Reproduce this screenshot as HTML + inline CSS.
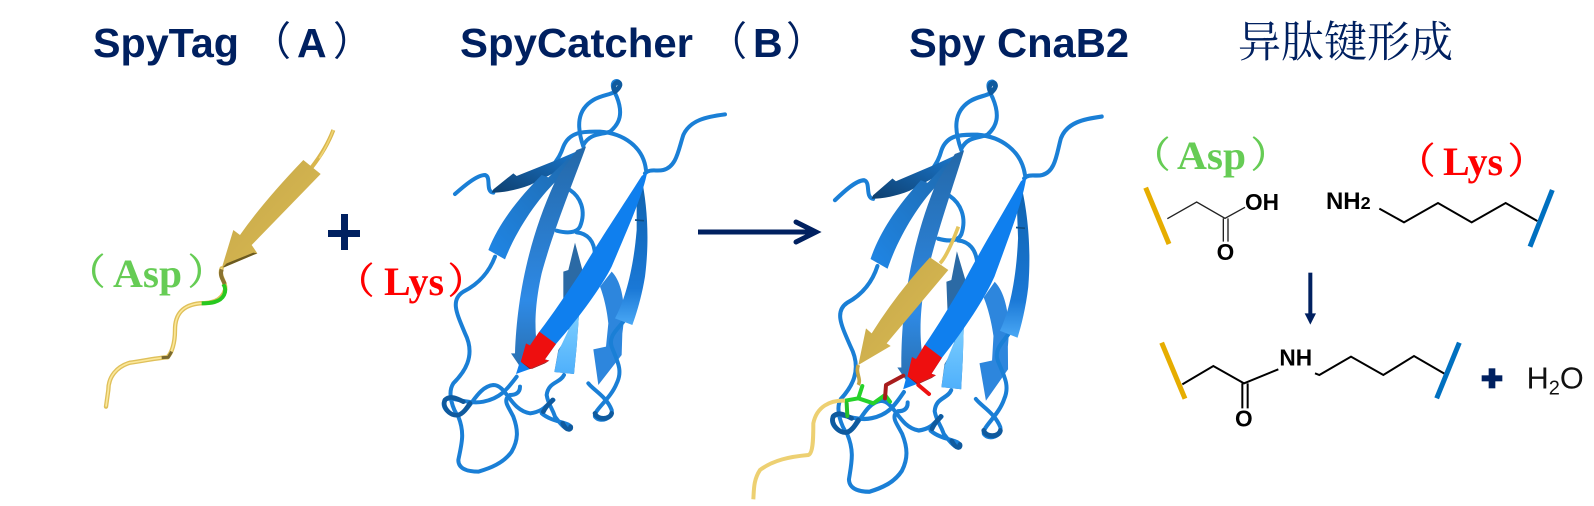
<!DOCTYPE html>
<html><head><meta charset="utf-8"><style>
html,body{margin:0;padding:0;background:#fff;width:1594px;height:506px;overflow:hidden}
svg{display:block}
.t{font-family:"Liberation Sans",sans-serif;font-weight:bold;font-size:41px;fill:#002060}
.p{font-family:"Noto Sans CJK SC",sans-serif;font-size:40px;fill:#002060}
.z{font-family:"Noto Serif CJK SC",serif;font-size:43px;fill:#002060}
.l{font-family:"Liberation Serif",serif;font-weight:bold;font-size:40px}
.lp{font-family:"Noto Serif CJK SC",serif;font-size:36px;stroke-width:.9}
.g{fill:#66cc55;stroke:#66cc55}
.r{fill:#f00;stroke:#f00}
.c{font-family:"Liberation Sans",sans-serif;fill:#000;font-weight:bold;font-size:68px}
.coil{fill:none;stroke:#1a7fd6;stroke-width:12;stroke-linecap:round;stroke-linejoin:round}
.dk{fill:none;stroke:#0f5a9e;stroke-width:14;stroke-linecap:round}
</style></head><body>
<svg width="1594" height="506" viewBox="0 0 1594 506" xmlns="http://www.w3.org/2000/svg">
<defs>
<linearGradient id="gTag" x1="0" y1="0" x2="1" y2="1"><stop offset="0" stop-color="#c4a647"/><stop offset="1" stop-color="#dcbc55"/></linearGradient>
<linearGradient id="gDark" x1="0" y1="1" x2="1" y2="0"><stop offset="0" stop-color="#0e3f6e"/><stop offset="1" stop-color="#1a78cf"/></linearGradient>
<linearGradient id="gS1" x1="0" y1="1" x2="1" y2="0"><stop offset="0" stop-color="#1f86e6"/><stop offset="1" stop-color="#1f6aae"/></linearGradient>
<linearGradient id="gS2" x1="0" y1="1" x2="0" y2="0"><stop offset="0" stop-color="#2a70b0"/><stop offset=".3" stop-color="#2e8ae6"/><stop offset="1" stop-color="#2468a8"/></linearGradient>
<linearGradient id="gS3" x1="0" y1="1" x2="0" y2="0"><stop offset="0" stop-color="#4aa8f5"/><stop offset=".25" stop-color="#1a78d6"/><stop offset="1" stop-color="#0f62ad"/></linearGradient>
<linearGradient id="gLt" x1="0" y1="1" x2="0" y2="0"><stop offset="0" stop-color="#4fb0fb"/><stop offset="1" stop-color="#7fd0ff"/></linearGradient>
<g id="prot">
  <!-- rear strands -->
  <path d="M575,605 C610,640 618,720 607,790 L605,855 L535,945 L520,838 L558,830 L565,760 C560,710 548,670 540,650 Z" fill="#2d86dd"/>
  <path d="M465,518 L490,610 L478,720 L470,830 L462,912 L403,906 L415,840 L448,790 L430,700 L430,605 L445,600 Z" fill="#2b6aa5"/>
  <path d="M478,720 L470,830 L462,912 L403,906 L415,845 L450,770 Z" fill="url(#gLt)"/>
  <!-- coils -->
  <path class="coil" d="M915,133 C860,140 810,150 790,195 C775,240 770,290 730,300 C710,305 690,295 675,310"/>
  <path class="coil" d="M678,300 C670,230 610,190 540,185 C500,185 450,180 430,230 C420,260 410,270 400,285"/>
  <path class="coil" d="M490,230 C470,170 470,120 520,90 C545,75 570,75 585,65 C600,55 605,35 590,33 C570,35 580,60 590,80 C610,130 600,160 570,185 C540,195 510,190 490,225"/>
  <path class="coil" d="M105,372 C130,350 170,315 195,315 C215,320 195,365 220,368"/>
  <path class="coil" d="M450,360 C480,380 500,420 480,470 C470,490 440,490 410,482"/>
  <path class="coil" d="M470,487 C500,490 525,510 525,560"/>
  <path class="coil" d="M225,560 C210,600 180,640 130,665 C90,690 110,730 135,790 C170,860 130,910 100,940 C80,970 100,1020 115,1040 C135,1090 125,1120 115,1170 C115,1200 150,1205 175,1205 C210,1195 250,1180 275,1145 C295,1110 295,1080 280,1040 C265,1010 255,1000 260,985"/>
  <path class="coil" d="M290,920 C260,960 240,985 190,995 C140,1005 90,975 75,990 C60,1010 90,1040 115,1035 C150,1025 170,950 220,945 C260,945 270,1020 330,1030 C370,1025 380,1005 400,990"/>
  <path class="coil" d="M300,950 C300,970 285,975 270,975"/>
  <path class="coil" d="M432,915 C420,940 385,935 380,975 C385,1005 395,1010 405,1040 C420,1060 440,1085 452,1075 C455,1055 400,1060 365,1030 C370,1010 385,1005 400,990"/>
  <path class="coil" d="M610,755 C590,780 565,800 575,830 C590,870 610,900 590,940 C570,990 520,1020 525,1040 C540,1060 580,1045 575,1020 C560,980 520,960 505,940"/>
  <!-- dark coil sections -->
  <path class="dk" d="M75,990 C65,1010 90,1040 115,1035 C130,1030 140,1015 150,1000"/>
  <path class="dk" d="M75,990 C90,975 110,985 130,995"/>
  <path class="dk" d="M428,1060 C440,1085 455,1080 452,1070"/>
  <path class="dk" d="M525,1030 C530,1050 570,1050 575,1030"/>
  <path class="dk" d="M583,60 C575,40 600,28 600,45 C598,55 590,60 585,65" />
  <path class="dk" d="M370,1025 C380,1005 390,1000 398,990" />
  <!-- left strands -->
  <path d="M220,358 L280,310 L290,318 L410,270 L480,240 L430,295 L330,345 C290,360 250,368 215,368 Z" fill="url(#gDark)"/>
  <path d="M205,540 C240,450 310,370 365,315 L385,322 L445,265 L470,285 L410,332 C350,390 290,480 255,568 Z" fill="url(#gS1)"/>
  <path d="M273,850 L285,850 C290,700 320,520 405,335 L420,310 L470,240 L498,230 C470,310 400,480 365,610 C345,700 345,760 348,800 L330,830 L300,890 Z" fill="url(#gS2)"/>
  <!-- far right strand -->
  <path d="M665,325 C680,400 690,500 675,620 C665,680 650,730 637,765 L585,745 C615,690 640,600 650,480 L650,400 Z" fill="url(#gS3)"/>
  <path d="M645,450 L672,452" stroke="#0f4f85" stroke-width="5"/>
  <!-- main strand -->
  <path d="M682,305 C670,370 630,460 575,590 C545,650 480,740 408,822 L375,868 L388,872 L330,897 L288,912 L298,880 L318,820 L330,826 L358,785 C400,730 440,670 480,610 C520,540 600,420 665,318 Z" fill="#0f7fee"/>
  <path d="M358,785 L408,822 L375,868 L388,872 L330,897 L302,875 L318,820 L330,826 Z" fill="#ee0f0f"/>
  <path d="M302,875 L330,897 L388,872 L375,880 L335,897 Z" fill="#a01010"/>
</g>
</defs>

<!-- titles -->
<text class="t" x="93" y="57" textLength="146" lengthAdjust="spacingAndGlyphs">SpyTag</text>
<text class="p" x="251" y="55">（</text><text class="t" x="297" y="57">A</text><text class="p" x="333" y="55">）</text>
<text class="t" x="460" y="57" textLength="233" lengthAdjust="spacingAndGlyphs">SpyCatcher</text>
<text class="p" x="707" y="55">（</text><text class="t" x="753" y="57">B</text><text class="p" x="786" y="55">）</text>
<text class="t" x="909" y="57" textLength="220" lengthAdjust="spacingAndGlyphs">Spy CnaB2</text>
<text class="z" x="1238" y="57">异肽键形成</text>

<!-- SpyTag A -->
<g transform="translate(60,110) scale(.33333)">
  <path d="M820,60 C805,100 780,140 755,172" fill="none" stroke="#d9b64d" stroke-width="12"/>
  <path d="M820,60 C805,100 790,125 778,145" fill="none" stroke="#f0d575" stroke-width="5"/>
  <path d="M730,150 L782,192 L575,405 L592,430 L485,475 L520,360 L540,375 Q610,275 730,150 Z" fill="url(#gTag)"/>
  <path d="M485,475 L592,430 L580,428 L500,460 Z" fill="#6b5a20"/>
  <path d="M485,475 C475,500 500,515 495,540 C485,575 450,580 420,580 C370,585 345,610 345,660 C345,700 335,730 322,742 C280,745 240,755 210,758 C170,770 145,800 145,840 L138,890" fill="none" stroke="#dfc05a" stroke-width="13" stroke-linecap="round"/>
  <path d="M485,475 C475,500 500,515 495,540 C485,575 450,580 420,580 C370,585 345,610 345,660 C345,700 335,730 322,742 C280,745 240,755 210,758 C170,770 145,800 145,840 L138,890" fill="none" stroke="#fbe79a" stroke-width="5"/>
  <path d="M490,522 C498,535 497,545 492,555 C480,578 450,580 425,580" fill="none" stroke="#27c81f" stroke-width="12"/>
  <path d="M485,478 C478,498 490,510 494,522" fill="none" stroke="#8a7330" stroke-width="12"/>
  <path d="M305,743 L325,742 L335,725" fill="none" stroke="#7a6a30" stroke-width="9"/>
</g>
<text class="lp g" x="69" y="284">（</text>
<text class="l" x="113" y="287" style="fill:#66cc55" textLength="69" lengthAdjust="spacingAndGlyphs">Asp</text>
<text class="lp g" x="188" y="284">）</text>

<!-- plus -->
<rect x="328" y="230" width="32" height="7" fill="#002060"/>
<rect x="341" y="214" width="7" height="36" fill="#002060"/>

<!-- Lys label -->
<text class="lp r" x="338" y="293">（</text>
<text class="l" x="384" y="295" style="fill:#f00" textLength="60" lengthAdjust="spacingAndGlyphs">Lys</text>
<text class="lp r" x="448" y="293">）</text>

<!-- SpyCatcher B -->
<g transform="translate(420,70) scale(.33333)"><use href="#prot"/></g>

<!-- main arrow -->
<line x1="698" y1="232" x2="815" y2="232" stroke="#002060" stroke-width="5"/>
<path d="M796,222 L816,232 L796,242" fill="none" stroke="#002060" stroke-width="5" stroke-linecap="round" stroke-linejoin="miter"/>

<!-- Spy CnaB2 -->
<g transform="translate(730,70) scale(.33333)">
  <g transform="matrix(1,0,.04,1.05,195,0)"><use href="#prot"/></g>
  <path d="M685,470 C670,510 650,560 630,580" fill="none" stroke="#e4c45c" stroke-width="11"/>
  <path d="M600,562 L655,600 L470,820 L482,828 L385,885 L408,775 L425,790 Q500,670 600,562 Z" fill="url(#gTag)"/>
  <path d="M385,885 C375,910 395,925 385,945" fill="none" stroke="#c4a647" stroke-width="11"/>
  <g fill="none" stroke-width="12" stroke-linecap="round" stroke-linejoin="round">
    <path d="M345,992 L385,985 L397,948" stroke="#25d22a"/>
    <path d="M350,1000 L352,1038" stroke="#25c02a"/>
    <path d="M385,985 L430,1000 L465,975 L480,995" stroke="#25d22a"/>
    <path d="M465,985 L468,945 L520,917" stroke="#a81c1c"/>
    <path d="M565,945 L597,972" stroke="#ee1111"/>
  </g>
  <path d="M345,992 C300,990 260,1010 250,1060 C250,1100 250,1150 235,1155 C180,1160 130,1170 90,1200 C70,1230 72,1260 70,1288" fill="none" stroke="#edd072" stroke-width="12"/>
</g>

<!-- Chemistry -->
<g transform="translate(1110,120) scale(.33333)">
  <line x1="107" y1="203" x2="177" y2="372" stroke="#e6ad00" stroke-width="15"/>
  <path d="M172,296 L260,246 L345,295 L405,262 M340,295 V365 M354,295 V365" fill="none" stroke="#222" stroke-width="4"/>
  <text class="c" x="405" y="270">OH</text>
  <text class="c" x="320" y="420">O</text>
  <text class="c" x="648" y="267" font-size="72" style="font-size:72px">NH<tspan style="font-size:54px">2</tspan></text>
  <path d="M808,266 L882,307 L984,249 L1085,307 L1187,249 L1282,303" fill="none" stroke="#000" stroke-width="6"/>
  <line x1="1327" y1="210" x2="1260" y2="380" stroke="#0070c0" stroke-width="15"/>
  <line x1="601" y1="458" x2="601" y2="585" stroke="#002060" stroke-width="12"/>
  <path d="M584,580 H618 L601,614 Z" fill="#002060"/>
  <line x1="155" y1="668" x2="225" y2="836" stroke="#e6ad00" stroke-width="15"/>
  <path d="M217,793 L310,738 L402,790 L505,748 M397,790 V865 M413,790 V865" fill="none" stroke="#000" stroke-width="6"/>
  <text class="c" x="375" y="920">O</text>
  <text class="c" x="508" y="737">NH</text>
  <path d="M615,760 L628,765 L723,710 L820,765 L912,708 L1005,762" fill="none" stroke="#000" stroke-width="6"/>
  <line x1="1048" y1="668" x2="980" y2="835" stroke="#0070c0" stroke-width="15"/>
  <rect x="1115" y="766" width="62" height="18" fill="#002060"/>
  <rect x="1136" y="745" width="20" height="60" fill="#002060"/>
  <text x="1250" y="805" style="font-family:'Liberation Sans',sans-serif;font-size:92px;fill:#111">H<tspan style="font-size:60px" dy="18">2</tspan><tspan dy="-18">O</tspan></text>
</g>
<text class="lp g" x="1134" y="167">（</text>
<text class="l" x="1177" y="169" style="fill:#66cc55" textLength="69" lengthAdjust="spacingAndGlyphs">Asp</text>
<text class="lp g" x="1251" y="167">）</text>
<text class="lp r" x="1399" y="173">（</text>
<text class="l" x="1443" y="175" style="fill:#f00" textLength="60" lengthAdjust="spacingAndGlyphs">Lys</text>
<text class="lp r" x="1508" y="173">）</text>
</svg>
</body></html>
